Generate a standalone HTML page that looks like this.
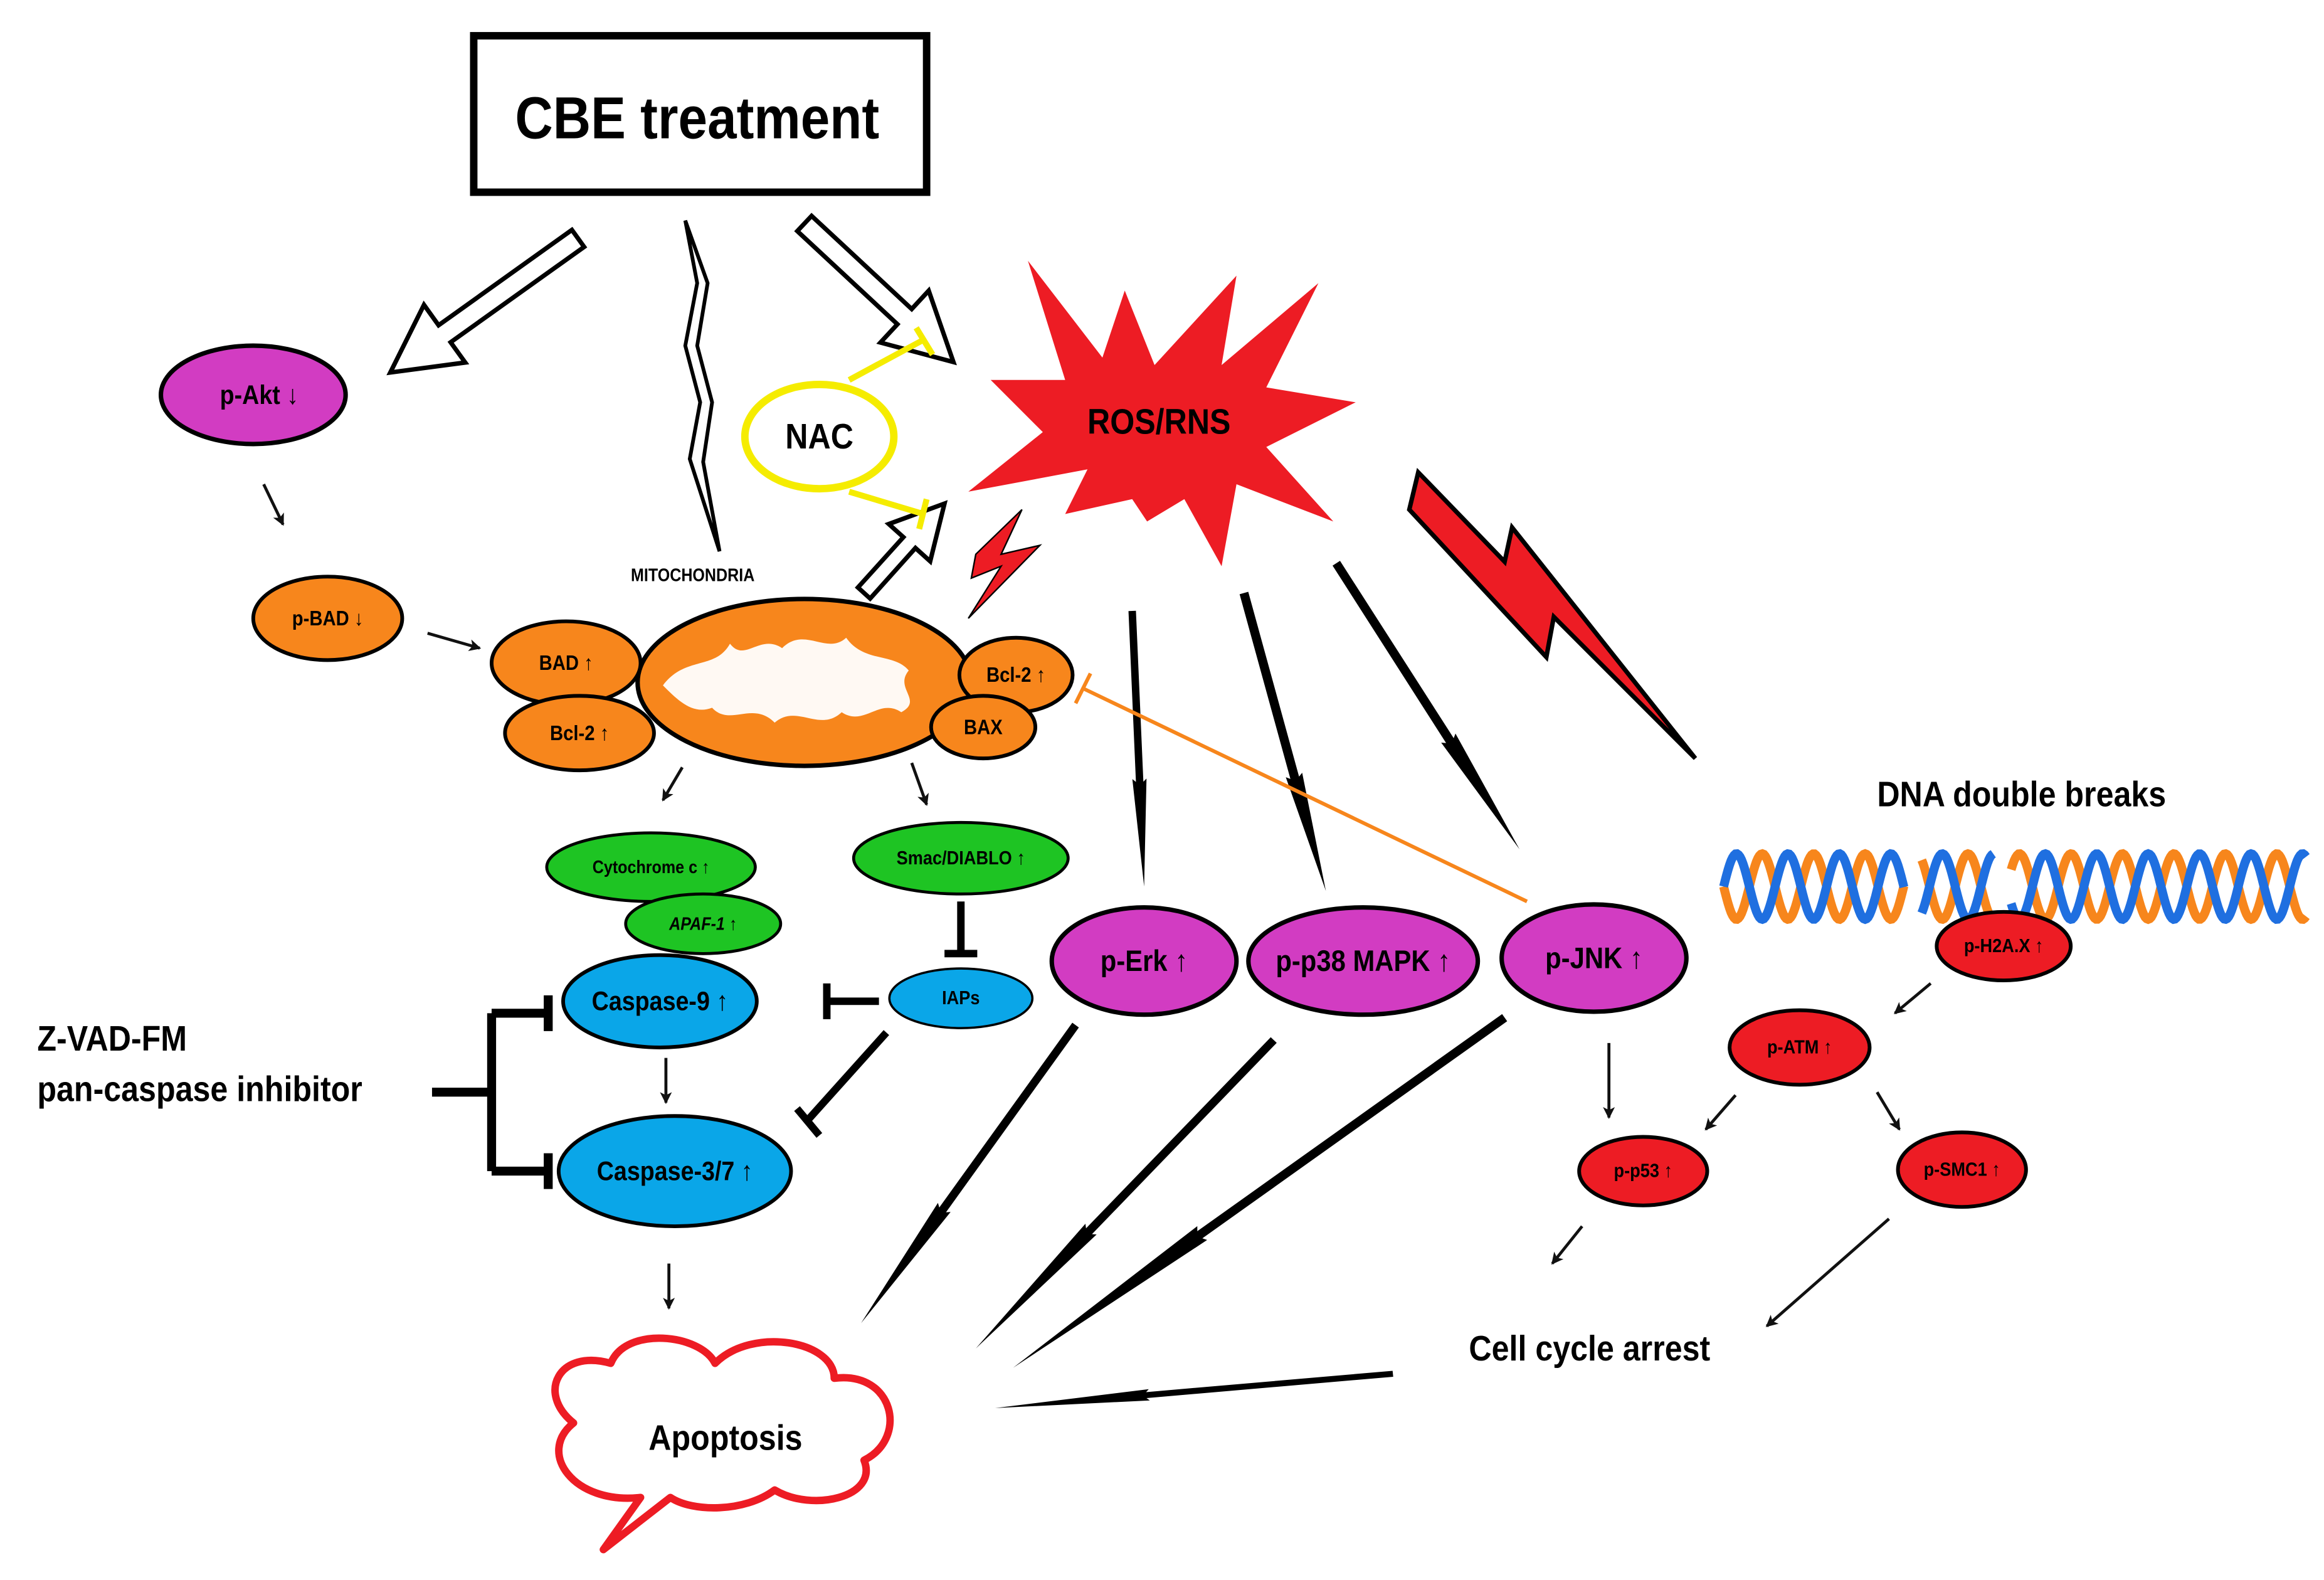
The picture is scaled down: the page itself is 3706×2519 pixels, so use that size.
<!DOCTYPE html>
<html><head><meta charset="utf-8"><style>
html,body{margin:0;padding:0;background:#fff;}
svg{display:block;}
text{font-family:"Liberation Sans",sans-serif;font-weight:bold;text-anchor:middle;dominant-baseline:central;}
</style></head><body>
<svg id="s" width="3706" height="2519" viewBox="0 0 1560 1060.4" preserveAspectRatio="none" xmlns="http://www.w3.org/2000/svg">
<defs>
<marker id="a" markerWidth="8" markerHeight="8" refX="7" refY="4" orient="auto" markerUnits="userSpaceOnUse"><path d="M0,0 L8,4 L0,8 L2,4z" fill="#111"/></marker>
</defs>
<rect width="1560" height="1061" fill="#fff"/>
<rect x="318" y="24" width="304" height="105" fill="#fff" stroke="#000" stroke-width="5"/>
<text x="468" y="79" font-size="40">CBE treatment</text>
<g id="dyn"></g>
<text x="465" y="386" font-size="12">MITOCHONDRIA</text>
<ellipse cx="540" cy="458" rx="112" ry="56" fill="#f7861c" stroke="#000" stroke-width="3"/>
<path d="M445,460 C460,440 480,450 490,432 C500,445 510,425 525,435 C540,420 555,440 568,428 C580,445 600,438 610,450 C600,462 620,470 605,478 C590,468 580,488 565,478 C550,492 535,472 520,485 C505,470 490,488 478,475 C465,480 455,470 445,460z" fill="#fff" opacity="0.95"/>
<ellipse cx="380" cy="445" rx="50" ry="28" fill="#f7861c" stroke="#000" stroke-width="2.5"/>
<text x="380" y="445" font-size="14">BAD ↑</text>
<ellipse cx="389" cy="492" rx="50" ry="25" fill="#f7861c" stroke="#000" stroke-width="2.5"/>
<text x="389" y="492" font-size="14">Bcl-2 ↑</text>
<ellipse cx="682" cy="453" rx="38" ry="25" fill="#f7861c" stroke="#000" stroke-width="2.5"/>
<text x="682" y="453" font-size="14">Bcl-2 ↑</text>
<ellipse cx="660" cy="488" rx="35" ry="21" fill="#f7861c" stroke="#000" stroke-width="2.5"/>
<text x="660" y="488" font-size="14">BAX</text>
<ellipse cx="220" cy="415" rx="50" ry="28" fill="#f7861c" stroke="#000" stroke-width="2.5"/>
<text x="220" y="415" font-size="14">p-BAD ↓</text>
<ellipse cx="170" cy="265" rx="62" ry="33" fill="#d23cc2" stroke="#000" stroke-width="3"/>
<text x="174" y="265" font-size="18">p-Akt ↓</text>
<polygon points="690,175 740,240 755,195 775,245 830,185 820,245 885,190 850,260 910,270 850,300 895,350 830,325 820,380 795,335 770,350 760,335 715,345 730,315 650,330 700,290 665,255 715,255" fill="#ed1c24"/>
<text x="778" y="283" font-size="24">ROS/RNS</text>
<ellipse cx="550" cy="293" rx="50" ry="35" fill="#fff" stroke="#f5ec00" stroke-width="5"/>
<text x="550" y="293" font-size="24">NAC</text>
<path d="M570,255 L620,228 M615,220 L626,238 M570,330 L620,345 M622,335 L617,355" stroke="#f5ec00" stroke-width="4" fill="none"/>
<polygon points="655,372 686,342 672,372 698,366 650,415 672,380 652,388" fill="#ed1c24" stroke="#000" stroke-width="1"/>
<polygon points="952,317 1010,377 1015,354 1138,509 1043,414 1038,441 946,342" fill="#ed1c24" stroke="#000" stroke-width="3" stroke-linejoin="miter"/>
<polygon points="460,148 468,190 460,232 470,270 463,308 483,370 472,310 478,270 468,232 475,190" fill="#fff" stroke="#000" stroke-width="2.5"/>
<ellipse cx="768" cy="645" rx="62" ry="36" fill="#d23cc2" stroke="#000" stroke-width="3"/>
<text x="768" y="645" font-size="20">p-Erk ↑</text>
<ellipse cx="915" cy="645" rx="77" ry="36" fill="#d23cc2" stroke="#000" stroke-width="3"/>
<text x="915" y="645" font-size="20">p-p38 MAPK ↑</text>
<ellipse cx="1070" cy="643" rx="62" ry="36" fill="#d23cc2" stroke="#000" stroke-width="3"/>
<text x="1070" y="643" font-size="20">p-JNK ↑</text>
<path d="M1025,605 L727,462 M722,472 L732,452" stroke="#f7861c" stroke-width="2.5" fill="none"/>
<ellipse cx="437" cy="582" rx="70" ry="23" fill="#1ec423" stroke="#000" stroke-width="2"/>
<text x="437" y="582" font-size="12">Cytochrome c ↑</text>
<ellipse cx="472" cy="620" rx="52" ry="20" fill="#1ec423" stroke="#000" stroke-width="2"/>
<text x="472" y="620" font-size="12" font-style="italic">APAF-1 ↑</text>
<ellipse cx="645" cy="576" rx="72" ry="24" fill="#1ec423" stroke="#000" stroke-width="2"/>
<text x="645" y="576" font-size="13">Smac/DIABLO ↑</text>
<ellipse cx="443" cy="672" rx="65" ry="31" fill="#0aa6e8" stroke="#000" stroke-width="2.5"/>
<text x="443" y="672" font-size="18">Caspase-9 ↑</text>
<ellipse cx="453" cy="786" rx="78" ry="37" fill="#0aa6e8" stroke="#000" stroke-width="2.5"/>
<text x="453" y="786" font-size="18">Caspase-3/7 ↑</text>
<ellipse cx="645" cy="670" rx="48" ry="20" fill="#0aa6e8" stroke="#000" stroke-width="1.5"/>
<text x="645" y="670" font-size="13">IAPs</text>
<path d="M645,605 L645,638 M634,640 L656,640 M590,672 L557,672 M555,660 L555,684 M595,693 L542,752 M535,744 L550,762" stroke="#000" stroke-width="5" fill="none"/>
<path d="M290,733 L330,733 M330,680 L330,786 M330,680 L370,680 M330,786 L370,786 M368,668 L368,692 M368,774 L368,798" stroke="#000" stroke-width="6" fill="none"/>
<text x="25" y="697" font-size="24" style="text-anchor:start">Z-VAD-FM</text>
<text x="25" y="731" font-size="24" style="text-anchor:start">pan-caspase inhibitor</text>
<path d="M405,1040 L430,1005 C385,1010 360,975 385,955 C360,935 375,905 410,915 C420,890 470,895 480,915 C505,890 560,900 560,925 C600,920 610,965 580,980 C590,1005 545,1015 520,1000 C500,1015 465,1015 450,1005 Z" fill="#fff" stroke="#ed1c24" stroke-width="5" stroke-linejoin="round"/>
<text x="487" y="965" font-size="24">Apoptosis</text>
<text x="1357" y="533" font-size="24">DNA double breaks</text>
<g id="dna"></g>
<ellipse cx="1345" cy="635" rx="45" ry="23" fill="#ed1c24" stroke="#000" stroke-width="2.5"/>
<text x="1345" y="635" font-size="13">p-H2A.X ↑</text>
<ellipse cx="1208" cy="703" rx="47" ry="25" fill="#ed1c24" stroke="#000" stroke-width="2.5"/>
<text x="1208" y="703" font-size="13">p-ATM ↑</text>
<ellipse cx="1103" cy="786" rx="43" ry="23" fill="#ed1c24" stroke="#000" stroke-width="2.5"/>
<text x="1103" y="786" font-size="13">p-p53 ↑</text>
<ellipse cx="1317" cy="785" rx="43" ry="25" fill="#ed1c24" stroke="#000" stroke-width="2.5"/>
<text x="1317" y="785" font-size="13">p-SMC1 ↑</text>
<text x="1067" y="905" font-size="24">Cell cycle arrest</text>
<g stroke="#111" stroke-width="2" marker-end="url(#a)" fill="none">
<path d="M177,325 L190,352"/><path d="M287,425 L322,435"/>
<path d="M458,515 L445,537"/><path d="M612,512 L622,540"/>
<path d="M447,710 L447,740"/><path d="M449,848 L449,878"/>
<path d="M1080,700 L1080,750"/><path d="M1296,660 L1272,680"/>
<path d="M1165,735 L1145,758"/><path d="M1260,733 L1275,758"/>
<path d="M1062,823 L1042,848"/><path d="M1268,818 L1186,890"/>
</g>
</svg>
<script>
var ns="http://www.w3.org/2000/svg",g=document.getElementById("dyn");
function P(pts,fill,sw,st){var p=document.createElementNS(ns,"polygon");p.setAttribute("points",pts.map(function(q){return q[0].toFixed(1)+","+q[1].toFixed(1)}).join(" "));p.setAttribute("fill",fill);if(sw){p.setAttribute("stroke",st||"#000");p.setAttribute("stroke-width",sw);}g.appendChild(p);}
function wedge(x1,y1,x2,y2,w){var dx=x2-x1,dy=y2-y1,L=Math.hypot(dx,dy),ux=dx/L,uy=dy/L,nx=-uy,ny=ux;
function pt(t,o){return [x1+ux*t+nx*o,y1+uy*t+ny*o];}
var b=L*0.62;P([pt(0,w/2),pt(b,w/2),pt(b-2,w*0.95),pt(L,0),pt(b-2,-w*0.95),pt(b,-w/2),pt(0,-w/2)],"#000");}
function hollow(x1,y1,x2,y2,w){var dx=x2-x1,dy=y2-y1,L=Math.hypot(dx,dy),ux=dx/L,uy=dy/L,nx=-uy,ny=ux;
function pt(t,o){return [x1+ux*t+nx*o,y1+uy*t+ny*o];}
var h=L-w*3.2;P([pt(0,w/2),pt(h,w/2),pt(h,w*1.7),pt(L,0),pt(h,-w*1.7),pt(h,-w/2),pt(0,-w/2)],"#fff",3);}
hollow(388,160,262,250,14);hollow(540,150,640,243,14);hollow(580,398,634,338,11);
wedge(760,410,768,595,5);wedge(835,398,890,598,6);wedge(897,378,1020,570,6);
wedge(722,688,578,888,5.5);wedge(855,698,655,905,5.5);wedge(1010,683,680,918,6);wedge(935,922,668,945,4);
var d=document.getElementById("dna");
function wave(ph,col,segs){segs.forEach(function(s){var p="";for(var x=s[0];x<=s[1];x+=1){var y=595+22*Math.sin((x-1157)/38*2*Math.PI*1.1+ph);p+=(x==s[0]?"M":"L")+x+","+y.toFixed(1);}
var e=document.createElementNS(ns,"path");e.setAttribute("d",p);e.setAttribute("stroke",col);e.setAttribute("stroke-width",6);e.setAttribute("fill","none");d.appendChild(e);});}
var segs=[[1157,1278],[1290,1338],[1350,1548]];
wave(0,"#f7861c",segs);wave(Math.PI,"#1f6fe0",segs);
document.querySelectorAll("text").forEach(function(t){var x=+t.getAttribute("x");t.setAttribute("transform","translate("+x+" 0) scale(0.88 1) translate("+(-x)+" 0)");});
</script>
</body></html>
